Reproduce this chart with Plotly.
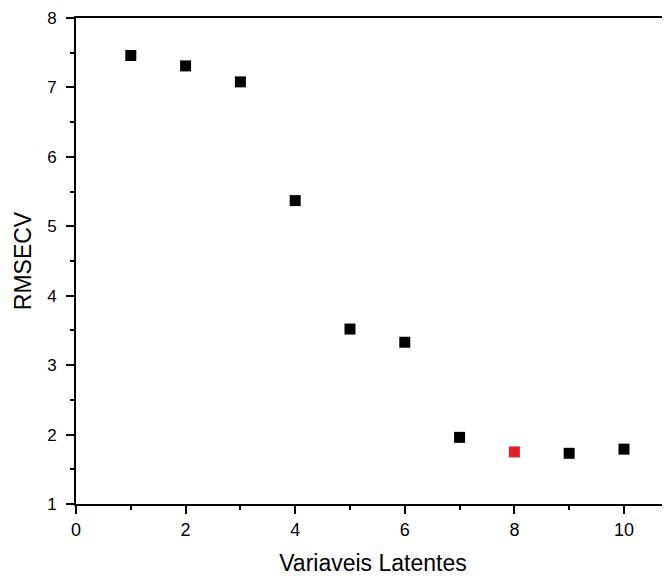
import plotly.graph_objects as go

latent_vars = [1, 2, 3, 4, 5, 6, 7, 8, 9, 10]
rmsecv = [7.46, 7.31, 7.08, 5.37, 3.52, 3.33, 1.96, 1.75, 1.73, 1.79]
selected = 8
colors = ["#e41e26" if v == selected else "black" for v in latent_vars]

font = "Liberation Sans, Arial, sans-serif"

fig = go.Figure(go.Scatter(
    x=latent_vars, y=rmsecv, mode="markers",
    marker=dict(symbol="square", size=11, color=colors, line=dict(width=0)),
    showlegend=False,
))

fig.update_layout(
    width=662, height=568,
    margin=dict(l=68, r=0, t=10, b=72),
    paper_bgcolor="white", plot_bgcolor="white",
    font=dict(family=font, color="black"),
    xaxis=dict(
        range=[0, 10.84], tickvals=[0, 2, 4, 6, 8, 10],
        ticks="outside", ticklen=8, tickwidth=2, tickcolor="black",
        showline=True, linewidth=2, linecolor="black", mirror=True,
        showgrid=False, zeroline=False, automargin=False,
        tickfont=dict(size=18, family=font), ticklabelstandoff=0,
        minor=dict(ticks="outside", ticklen=4, tickwidth=2, tickcolor="black",
                   dtick=1, tick0=0, showgrid=False),
        title=dict(text="Variaveis Latentes", font=dict(size=23, family=font), standoff=26),
    ),
    yaxis=dict(
        range=[1, 8], tickvals=[1, 2, 3, 4, 5, 6, 7, 8],
        ticks="outside", ticklen=8, tickwidth=2, tickcolor="black",
        showline=True, linewidth=2, linecolor="black", mirror=False,
        showgrid=False, zeroline=False, automargin=False,
        tickfont=dict(size=17, family=font), ticklabelstandoff=6,
        minor=dict(ticks="outside", ticklen=4, tickwidth=2, tickcolor="black",
                   dtick=0.5, tick0=0, showgrid=False),
        title=dict(text="RMSECV", font=dict(size=23, family=font), standoff=9),
    ),
)

fig.write_html("out.html")
